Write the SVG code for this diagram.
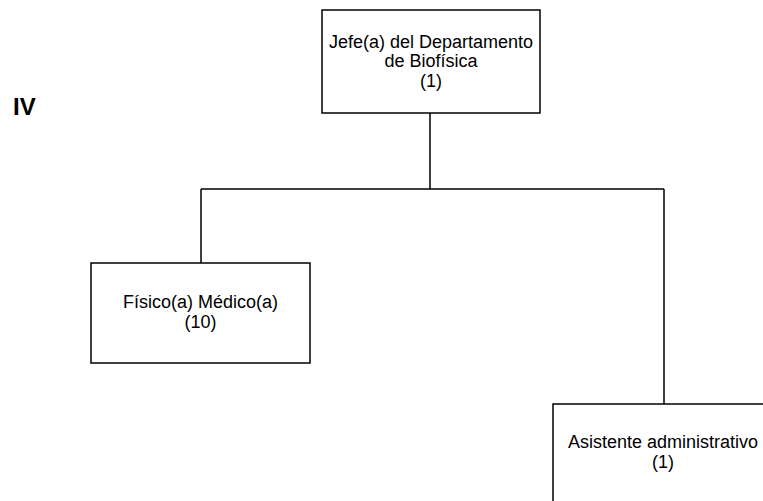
<svg xmlns="http://www.w3.org/2000/svg" width="763" height="501" viewBox="0 0 763 501">
<style>
.box{fill:#fff;stroke:#000;stroke-width:1.5}
.t{font-family:"Liberation Sans",Arial,sans-serif;font-size:18px;fill:#000;text-anchor:middle}
.c{fill:none;stroke:#000;stroke-width:1.5}
</style>
<rect width="763" height="501" fill="#fff"/>
<text x="13" y="115" style="font-family:'Liberation Sans',Arial,sans-serif;font-size:24px;font-weight:bold">IV</text>
<g id="connectors">
<path class="c" d="M430 113V189M201 189H664M201 189V263M664 189V404"/>
</g>
<g id="jefe">
<rect class="box" x="322" y="10" width="218" height="103"/>
<text class="t" x="431" y="48">Jefe(a) del Departamento</text>
<text class="t" x="431" y="67">de Biofísica</text>
<text class="t" x="431" y="87">(1)</text>
</g>
<g id="fisico">
<rect class="box" x="91" y="263" width="219" height="100"/>
<text class="t" x="200.5" y="308">Físico(a) Médico(a)</text>
<text class="t" x="200.5" y="328">(10)</text>
</g>
<g id="asistente">
<rect class="box" x="553" y="404" width="230" height="120"/>
<text class="t" x="663" y="448">Asistente administrativo</text>
<text class="t" x="663" y="468">(1)</text>
</g>
</svg>
